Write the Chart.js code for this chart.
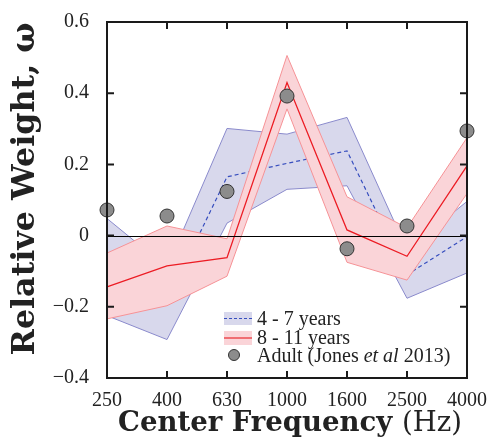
<!DOCTYPE html>
<html>
<head>
<meta charset="utf-8">
<script src="https://cdn.jsdelivr.net/npm/chart.js@4.4.0/dist/chart.umd.min.js"></script>
<style>
  html, body { margin: 0; padding: 0; background: #fff; }
  #wrap { width: 490px; height: 445px; }
</style>
</head>
<body>
<div id="wrap"><canvas id="weightChart" width="490" height="445"></canvas></div>
<script>
// center frequencies (Hz)
const freqLabels = ['250', '400', '630', '1000', '1600', '2500', '4000'];

// adult weights (Jones et al 2013)
const adultWeights = [0.072, 0.055, 0.124, 0.392, -0.037, 0.027, 0.294];

// 8 - 11 years: mean and band
const olderMean  = [-0.144, -0.085, -0.062, 0.430, 0.016, -0.058, 0.196];
const olderUpper = [-0.049, 0.027, -0.009, 0.506, 0.109, 0.022, 0.275];
const olderLower = [-0.234, -0.197, -0.114, 0.356, -0.075, -0.125, 0.118];

// 4 - 7 years: mean and band
const youngMean  = [-0.120, -0.184, 0.165, 0.203, 0.238, -0.110, -0.003];
const youngUpper = [0.048, -0.090, 0.301, 0.285, 0.332, -0.040, 0.096];
const youngLower = [-0.225, -0.292, 0.035, 0.130, 0.140, -0.176, -0.105];

const yTicks = [-0.4, -0.2, 0, 0.2, 0.4, 0.6];

const SERIF = '"Liberation Serif", "DejaVu Serif", serif';
const WIDE_SERIF = '"DejaVu Serif", "Liberation Serif", serif';

const BLUE_FILL = 'rgb(216,216,236)';
const BLUE_EDGE = 'rgb(138,138,204)';
const BLUE_DASH = 'rgb(55,78,190)';
const RED_FILL = 'rgb(250,212,216)';
const RED_EDGE = 'rgb(246,146,150)';
const RED_LINE = 'rgb(236,28,36)';

function fmtTick(v) {
  const r = Math.round(v * 10) / 10;
  if (r === 0) return '0';
  return r < 0 ? '\u2212' + Math.abs(r).toFixed(1) : r.toFixed(1);
}

// draw text made of parts with different fonts, centred on x
function drawParts(ctx, parts, size, cx, baseY) {
  let total = 0;
  parts.forEach(p => {
    ctx.font = p.style + ' ' + size + 'px ' + WIDE_SERIF;
    p.w = ctx.measureText(p.text).width;
    total += p.w;
  });
  let x = cx - total / 2;
  parts.forEach(p => {
    ctx.font = p.style + ' ' + size + 'px ' + WIDE_SERIF;
    ctx.fillText(p.text, x, baseY);
    x += p.w;
  });
}

function fitSize(ctx, parts, target) {
  let total = 0;
  parts.forEach(p => {
    ctx.font = p.style + ' 100px ' + WIDE_SERIF;
    total += ctx.measureText(p.text).width;
  });
  return 100 * target / total;
}

const zeroLinePlugin = {
  id: 'zeroLine',
  afterDatasetDraw(chart, args) {
    if (args.index !== 1) return;
    const { ctx, chartArea } = chart;
    const y = chart.scales.y.getPixelForValue(0);
    ctx.save();
    ctx.strokeStyle = '#000';
    ctx.lineWidth = 1;
    ctx.beginPath();
    ctx.moveTo(chartArea.left, Math.round(y) + 0.5);
    ctx.lineTo(chartArea.right, Math.round(y) + 0.5);
    ctx.stroke();
    ctx.restore();
  }
};

const framePlugin = {
  id: 'frame',
  afterDraw(chart) {
    const { ctx, chartArea } = chart;
    const { left, right, top, bottom } = chartArea;
    const xs = chart.scales.x, ys = chart.scales.y;
    ctx.save();
    ctx.strokeStyle = '#1a1a1a';
    ctx.lineWidth = 2;
    ctx.strokeRect(left, top, right - left, bottom - top);
    ctx.beginPath();
    freqLabels.forEach((lab, i) => {
      const x = xs.getPixelForValue(i);
      ctx.moveTo(x, bottom); ctx.lineTo(x, bottom - 7);
      ctx.moveTo(x, top); ctx.lineTo(x, top + 7);
    });
    yTicks.forEach(v => {
      const y = ys.getPixelForValue(v);
      ctx.moveTo(left, y); ctx.lineTo(left + 7, y);
      ctx.moveTo(right, y); ctx.lineTo(right - 7, y);
    });
    ctx.stroke();

    // axis titles
    ctx.fillStyle = '#222';
    ctx.textBaseline = 'alphabetic';
    const xParts = [{ text: 'Center Frequency ', style: 'bold' }, { text: '(Hz)', style: 'normal' }];
    drawParts(ctx, xParts, fitSize(ctx, xParts, 344), 290, 431);
    const yParts = [{ text: 'Relative Weight, \u03c9', style: 'bold' }];
    ctx.save();
    ctx.translate(34, 189);
    ctx.rotate(-Math.PI / 2);
    drawParts(ctx, yParts, fitSize(ctx, yParts, 333), 0, 0);
    ctx.restore();

    // legend
    const lx = 224, lw = 28;
    ctx.fillStyle = BLUE_FILL;
    ctx.fillRect(lx, 312, lw, 13);
    ctx.strokeStyle = BLUE_DASH;
    ctx.lineWidth = 1.2;
    ctx.setLineDash([3, 2]);
    ctx.beginPath(); ctx.moveTo(lx, 318.5); ctx.lineTo(lx + lw, 318.5); ctx.stroke();
    ctx.setLineDash([]);
    ctx.fillStyle = RED_FILL;
    ctx.fillRect(lx, 331, lw, 14);
    ctx.strokeStyle = 'rgb(240,110,115)';
    ctx.lineWidth = 2;
    ctx.beginPath(); ctx.moveTo(lx, 338); ctx.lineTo(lx + lw, 338); ctx.stroke();
    ctx.fillStyle = '#8c8c8c';
    ctx.strokeStyle = '#333';
    ctx.lineWidth = 1;
    ctx.beginPath(); ctx.arc(lx + 10, 355, 5.5, 0, Math.PI * 2); ctx.fill(); ctx.stroke();

    ctx.fillStyle = '#222';
    ctx.textAlign = 'left';
    ctx.font = '20px ' + SERIF;
    ctx.fillText('4 - 7 years', 257, 325);
    ctx.fillText('8 - 11 years', 257, 344);
    let tx = 257;
    [['Adult (Jones ', 'normal'], ['et al', 'italic'], [' 2013)', 'normal']].forEach(([t, s]) => {
      ctx.font = s + ' 20px ' + SERIF;
      ctx.fillText(t, tx, 362);
      tx += ctx.measureText(t).width;
    });
    ctx.restore();
  }
};

const ctx = document.getElementById('weightChart').getContext('2d');
new Chart(ctx, {
  type: 'line',
  data: {
    labels: freqLabels,
    datasets: [
      {
        label: 'Adult (Jones et al 2013)',
        data: adultWeights,
        showLine: false,
        pointRadius: 7,
        pointBackgroundColor: '#8c8c8c',
        pointBorderColor: '#333',
        pointBorderWidth: 1,
        clip: false,
        order: 0
      },
      {
        label: '8 - 11 years',
        data: olderMean,
        borderColor: RED_LINE,
        borderWidth: 1.3,
        pointRadius: 0,
        fill: false,
        order: 1
      },
      {
        label: '8 - 11 lower',
        data: olderLower,
        borderColor: RED_EDGE,
        borderWidth: 1,
        pointRadius: 0,
        fill: false,
        order: 2
      },
      {
        label: '8 - 11 upper',
        data: olderUpper,
        borderColor: RED_EDGE,
        backgroundColor: RED_FILL,
        borderWidth: 1,
        pointRadius: 0,
        fill: '-1',
        order: 3
      },
      {
        label: '4 - 7 years',
        data: youngMean,
        borderColor: BLUE_DASH,
        borderWidth: 1.2,
        borderDash: [4, 3],
        pointRadius: 0,
        fill: false,
        order: 4
      },
      {
        label: '4 - 7 lower',
        data: youngLower,
        borderColor: BLUE_EDGE,
        borderWidth: 1,
        pointRadius: 0,
        fill: false,
        order: 5
      },
      {
        label: '4 - 7 upper',
        data: youngUpper,
        borderColor: BLUE_EDGE,
        backgroundColor: BLUE_FILL,
        borderWidth: 1,
        pointRadius: 0,
        fill: '-1',
        order: 6
      }
    ]
  },
  options: {
    responsive: false,
    animation: false,
    devicePixelRatio: 1,
    layout: { padding: { left: 17, right: 23, top: 17, bottom: 17 } },
    plugins: {
      legend: { display: false },
      tooltip: { enabled: false }
    },
    scales: {
      x: {
        type: 'category',
        offset: false,
        grid: { display: false },
        border: { display: false },
        ticks: {
          color: '#222',
          font: { family: SERIF, size: 20 },
          padding: 3,
          maxRotation: 0,
          autoSkip: false
        },
        afterFit(scale) { scale.height = 50; }
      },
      y: {
        min: -0.4,
        max: 0.6,
        grid: { display: false },
        border: { display: false },
        afterBuildTicks(scale) { scale.ticks = yTicks.map(v => ({ value: v })); },
        ticks: {
          color: '#222',
          font: { family: SERIF, size: 20 },
          padding: 10,
          callback: v => fmtTick(v)
        },
        afterFit(scale) { scale.width = 90; }
      }
    }
  },
  plugins: [zeroLinePlugin, framePlugin]
});
</script>
</body>
</html>
